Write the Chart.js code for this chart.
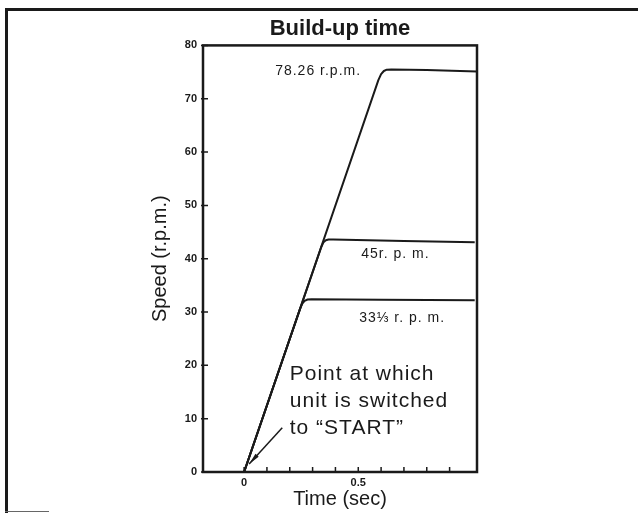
<!DOCTYPE html>
<html>
<head>
<meta charset="utf-8">
<script src="https://cdn.jsdelivr.net/npm/chart.js@4.4.0/dist/chart.umd.min.js"></script>
<style>
  body { margin: 0; background: #fff; }
  #wrap { position: relative; width: 638px; height: 513px; overflow: hidden; }
  canvas { position: absolute; left: 0; top: 0; }
  .rule { position: absolute; background: #1a1a1a; }
</style>
</head>
<body>
<div id="wrap">
  <canvas id="buildUpChart" width="638" height="513"></canvas>
  <div class="rule" style="left:5px; top:8px; width:633px; height:3px;"></div>
  <div class="rule" style="left:5px; top:8px; width:3px; height:505px;"></div>
  <div class="rule" style="left:5px; top:511px; width:44px; height:1px; background:#666;"></div>
</div>
<script>
// time (sec) / speed (r.p.m.)
const time33 = [0, 0.245, 0.255, 0.265, 0.278, 0.295, 0.6, 1.01];
const speed33 = [0, 30.6, 31.6, 32.1, 32.35, 32.4, 32.3, 32.2];
const time45 = [0, 0.338, 0.348, 0.358, 0.37, 0.39, 0.7, 1.01];
const speed45 = [0, 42.2, 43.1, 43.45, 43.6, 43.6, 43.3, 43.1];
const time78 = [0, 0.588, 0.6, 0.612, 0.625, 0.645, 0.8, 1.02];
const speed78 = [0, 73.5, 74.6, 75.2, 75.45, 75.5, 75.4, 75.1];

const xTicks = [0, 0.1, 0.2, 0.3, 0.4, 0.5, 0.6, 0.7, 0.8, 0.9];
const xLabels = [0, 0.5];
const yTicks = [0, 10, 20, 30, 40, 50, 60, 70, 80];

// curve labels, anchored in data units (left edge, middle of text)
const notes = [
  { text: '78.26 r.p.m.', t: 0.136, v: 75.1, size: 14, spacing: 1 },
  { text: '45r. p. m.', t: 0.513, v: 40.8, size: 14, spacing: 1 },
  { text: '33\u2153 r. p. m.', t: 0.504, v: 28.9, size: 14, spacing: 1 },
  { text: 'Point at which', t: 0.2, v: 18.4, size: 21, spacing: 1 },
  { text: 'unit is switched', t: 0.2, v: 13.2, size: 21, spacing: 1 },
  { text: 'to \u201cSTART\u201d', t: 0.2, v: 8.3, size: 21, spacing: 1 }
];
const arrowFrom = [0.167, 8.3];
const arrowTo = [0.022, 1.5];

const ink = '#1a1a1a';
Chart.defaults.font.family = "'Liberation Sans', Arial, sans-serif";
Chart.defaults.color = ink;

function toPoints(xs, ys) {
  return xs.map((x, i) => ({ x: x, y: ys[i] }));
}

function curve(label, xs, ys) {
  return {
    label: label,
    data: toPoints(xs, ys),
    borderColor: ink,
    borderWidth: 2,
    pointRadius: 0,
    tension: 0,
    borderJoinStyle: 'round',
    fill: false
  };
}

const framePlugin = {
  id: 'frameAndNotes',
  afterDatasetsDraw(chart) {
    const ctx = chart.ctx;
    const a = chart.chartArea;
    const xs = chart.scales.x;
    const ys = chart.scales.y;
    ctx.save();
    ctx.strokeStyle = ink;
    ctx.lineWidth = 2.5;
    ctx.strokeRect(a.left, a.top, a.right - a.left, a.bottom - a.top);

    // short inward ticks
    ctx.lineWidth = 1.5;
    ctx.beginPath();
    xTicks.forEach(v => {
      const px = xs.getPixelForValue(v);
      ctx.moveTo(px, a.bottom);
      ctx.lineTo(px, a.bottom - 5);
    });
    yTicks.forEach(v => {
      const py = ys.getPixelForValue(v);
      ctx.moveTo(a.left - 2, py);
      ctx.lineTo(a.left + 5, py);
    });
    ctx.stroke();

    // text notes
    ctx.fillStyle = ink;
    ctx.textBaseline = 'middle';
    ctx.textAlign = 'left';
    notes.forEach(n => {
      ctx.font = n.size + "px 'Liberation Sans', Arial, sans-serif";
      ctx.letterSpacing = n.spacing + 'px';
      ctx.fillText(n.text, xs.getPixelForValue(n.t), ys.getPixelForValue(n.v));
    });

    // arrow to the start point
    const x1 = xs.getPixelForValue(arrowFrom[0]), y1 = ys.getPixelForValue(arrowFrom[1]);
    const x2 = xs.getPixelForValue(arrowTo[0]), y2 = ys.getPixelForValue(arrowTo[1]);
    const ang = Math.atan2(y2 - y1, x2 - x1);
    ctx.lineWidth = 1.5;
    ctx.beginPath();
    ctx.moveTo(x1, y1);
    ctx.lineTo(x2, y2);
    ctx.stroke();
    ctx.beginPath();
    ctx.moveTo(x2, y2);
    ctx.lineTo(x2 - 12 * Math.cos(ang - 0.18), y2 - 12 * Math.sin(ang - 0.18));
    ctx.lineTo(x2 - 12 * Math.cos(ang + 0.18), y2 - 12 * Math.sin(ang + 0.18));
    ctx.closePath();
    ctx.fill();
    ctx.restore();
  }
};

new Chart(document.getElementById('buildUpChart'), {
  type: 'line',
  data: {
    datasets: [
      curve('78.26 r.p.m.', time78, speed78),
      curve('45 r.p.m.', time45, speed45),
      curve('33 1/3 r.p.m.', time33, speed33)
    ]
  },
  options: {
    responsive: false,
    animation: false,
    layout: { padding: { top: 8, left: 140, right: 161, bottom: 0 } },
    plugins: {
      legend: { display: false },
      tooltip: { enabled: false },
      title: {
        display: true,
        text: 'Build-up time',
        fullSize: false,
        color: ink,
        font: { size: 22, weight: 'bold' },
        padding: { top: 8, bottom: 3 }
      }
    },
    scales: {
      x: {
        type: 'linear',
        min: -0.18,
        max: 1.02,
        afterBuildTicks: s => { s.ticks = xTicks.map(v => ({ value: v })); },
        afterFit: s => { s.height = 41; },
        grid: { display: false, drawTicks: false },
        border: { display: false },
        ticks: {
          autoSkip: false,
          maxRotation: 0,
          padding: 4,
          font: { size: 11, weight: 'bold', family: "'Liberation Sans Narrow', 'Liberation Sans', sans-serif" },
          callback: v => xLabels.includes(Math.round(v * 10) / 10) ? String(Math.round(v * 10) / 10) : ''
        },
        title: {
          display: true,
          text: 'Time (sec)',
          font: { size: 20 },
          padding: { top: 0, bottom: 2 }
        }
      },
      y: {
        min: 0,
        max: 80,
        afterBuildTicks: s => { s.ticks = yTicks.map(v => ({ value: v })); },
        afterFit: s => { s.width = 63; },
        grid: { display: false, drawTicks: false },
        border: { display: false },
        ticks: {
          padding: 6,
          font: { size: 11, weight: 'bold', family: "'Liberation Sans Narrow', 'Liberation Sans', sans-serif" }
        },
        title: {
          display: true,
          text: 'Speed (r.p.m.)',
          font: { size: 20 },
          padding: { top: 8, bottom: 0 }
        }
      }
    }
  },
  plugins: [framePlugin]
});
</script>
</body>
</html>
